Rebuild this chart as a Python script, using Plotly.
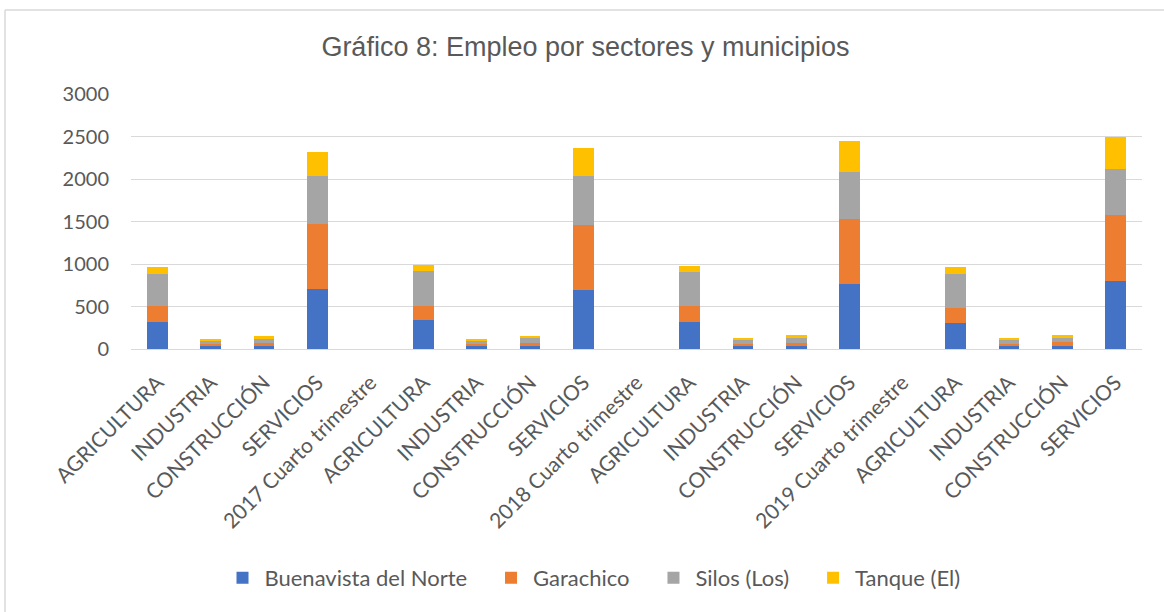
import plotly.graph_objects as go

categories = [
    "AGRICULTURA", "INDUSTRIA", "CONSTRUCCIÓN", "SERVICIOS", "2017 Cuarto trimestre",
    "AGRICULTURA", "INDUSTRIA", "CONSTRUCCIÓN", "SERVICIOS", "2018 Cuarto trimestre",
    "AGRICULTURA", "INDUSTRIA", "CONSTRUCCIÓN", "SERVICIOS", "2019 Cuarto trimestre",
    "AGRICULTURA", "INDUSTRIA", "CONSTRUCCIÓN", "SERVICIOS",
]

buenavista = [321, 39, 39, 710, None, 345, 39, 39, 698, None, 321, 39, 39, 768, None, 306, 39, 39, 804]
garachico = [189, 24, 35, 764, None, 165, 24, 35, 764, None, 189, 24, 32, 757, None, 180, 24, 43, 776]
silos = [376, 39, 48, 561, None, 411, 35, 59, 573, None, 396, 47, 62, 560, None, 400, 47, 51, 541]
tanque = [78, 16, 27, 282, None, 71, 20, 20, 329, None, 70, 15, 36, 357, None, 74, 15, 36, 368]

series_names = ["Buenavista del Norte", "Garachico", "Silos (Los)", "Tanque (El)"]
series_values = [buenavista, garachico, silos, tanque]
colors = ["#4472C4", "#ED7D31", "#A5A5A5", "#FFC000"]

x_pos = list(range(len(categories)))

fig = go.Figure()
for i, (name, vals, col) in enumerate(zip(series_names, series_values, colors)):
    legend_label = name + ("\u00a0\u00a0\u00a0" if i < len(series_names) - 1 else "")
    fig.add_trace(go.Bar(
        x=x_pos, y=vals, name=legend_label,
        marker=dict(color=col, line=dict(width=0)),
    ))

W, H = 1164, 612
L, R, T, B = 131, 22, 94, 263
pw, ph = W - L - R, H - T - B

def px_x(px):
    return (px - L) / pw

def px_y(py):
    return (H - B - py) / ph

text_family = "Lato, 'Open Sans', sans-serif"

fig.update_layout(
    width=W, height=H,
    margin=dict(l=L, r=R, t=T, b=B, pad=0),
    barmode="stack",
    bargap=0.61,
    plot_bgcolor="white",
    paper_bgcolor="white",
    title=dict(
        text="Gráfico 8: Empleo por sectores y municipios",
        x=0.503, xref="container", xanchor="center",
        y=1 - 47 / H, yref="container", yanchor="middle",
        font=dict(family="Liberation Sans, Arial, sans-serif", size=27, color="#595959"),
    ),
    xaxis=dict(
        tickmode="array", tickvals=x_pos, ticktext=categories,
        tickangle=-45, tickfont=dict(family=text_family, size=21, color="#595959"),
        range=[-0.5, len(categories) - 0.5],
        showgrid=False, showline=True, linecolor="#d9d9d9", linewidth=1,
        ticks="outside", ticklen=12, tickcolor="rgba(0,0,0,0)", zeroline=False,
    ),
    yaxis=dict(
        range=[0, 3000], tickvals=[0, 500, 1000, 1500, 2000, 2500, 3000],
        tickfont=dict(family=text_family, size=20, color="#595959"),
        showgrid=True, gridcolor="#d9d9d9", gridwidth=1,
        zeroline=False, showline=False, ticks="outside", ticklen=17, tickcolor="rgba(0,0,0,0)",
    ),
    legend=dict(
        orientation="h", x=px_x(593), xanchor="center",
        y=px_y(578), yanchor="middle",
        font=dict(family=text_family, size=22, color="#595959"),
        traceorder="normal", itemwidth=34,
    ),
    shapes=[
        dict(type="line", xref="paper", yref="paper",
             x0=px_x(5), x1=px_x(5), y0=px_y(10), y1=px_y(612),
             line=dict(color="#d9d9d9", width=1.5)),
        dict(type="line", xref="paper", yref="paper",
             x0=px_x(5), x1=px_x(1164), y0=px_y(10), y1=px_y(10),
             line=dict(color="#d9d9d9", width=1.5)),
    ],
    showlegend=True,
)

fig.write_html(
    "out.html",
    config={"displayModeBar": False},
    post_script="document.body.style.margin='0';document.body.style.overflow='hidden';",
)
